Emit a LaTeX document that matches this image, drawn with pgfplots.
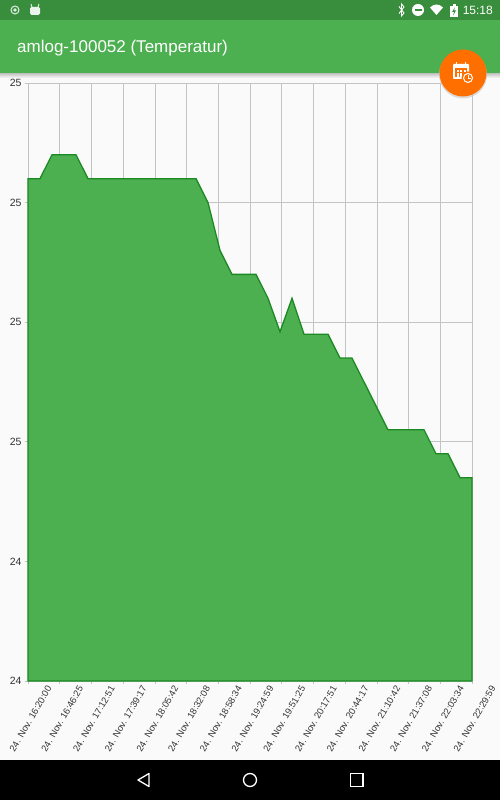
\documentclass[border=0pt]{standalone}
\usepackage{pgfplots}
\pgfplotsset{compat=1.18}
\usepackage{fontspec}
\setmainfont{Liberation Sans}
\definecolor{bg}{HTML}{FAFAFA}
\definecolor{appbar}{HTML}{4CAF50}
\definecolor{statusbar}{HTML}{388E3C}
\definecolor{fab}{HTML}{FF6F00}
\definecolor{gridc}{HTML}{C4C4C4}
\definecolor{linec}{HTML}{1B8A23}
\definecolor{labelc}{HTML}{333333}
\begin{document}
\begin{tikzpicture}[x=1pt,y=1pt]
\useasboundingbox (0,0) rectangle (500,800);
\fill[bg] (0,0) rectangle (500,800);
\begin{axis}[
  at={(28pt,119pt)}, anchor=south west,
  scale only axis, width=444pt, height=598pt,
  xmin=0, xmax=22199, ymin=24.3, ymax=24.8,
  axis x line=bottom, axis y line=left,
  axis line style={gridc,line width=0.8pt,-},
  grid=major, grid style={gridc,line width=0.6pt},
  tick style={gridc,line width=0.6pt},
  tick align=outside,
  major tick length=3pt,
  xtick={0,1585,3171,4757,6342,7928,9514,11099,12685,14271,15857,17442,19028,20614,22199},
  xticklabels={24. Nov. 16:20:00,24. Nov. 16:46:25,24. Nov. 17:12:51,24. Nov. 17:39:17,24. Nov. 18:05:42,24. Nov. 18:32:08,24. Nov. 18:58:34,24. Nov. 19:24:59,24. Nov. 19:51:25,24. Nov. 20:17:51,24. Nov. 20:44:17,24. Nov. 21:10:42,24. Nov. 21:37:08,24. Nov. 22:03:34,24. Nov. 22:29:59},
  xticklabel style={anchor=center,font=\fontsize{9.3}{11}\selectfont,text=labelc,yshift=-35pt,xshift=2.5pt,rotate=60},
  ytick={24.3,24.4,24.5,24.6,24.7,24.8},
  yticklabels={24,24,25,25,25,25},
  yticklabel style={font=\fontsize{10.5}{12}\selectfont,text=labelc},
  clip=false,
]
\addplot[draw=linec,line width=1.3pt,fill=appbar] coordinates {
(0,24.72)(600,24.72)(1200,24.74)(1800,24.74)(2400,24.74)(3000,24.72)(3600,24.72)(4200,24.72)(4800,24.72)(5400,24.72)(6000,24.72)(6600,24.72)(7200,24.72)(7800,24.72)(8400,24.72)(9000,24.70)(9600,24.66)(10200,24.64)(10800,24.64)(11400,24.64)(12000,24.62)(12600,24.592)(13200,24.62)(13800,24.59)(14400,24.59)(15000,24.59)(15600,24.57)(16200,24.57)(16800,24.55)(17400,24.53)(18000,24.51)(18600,24.51)(19200,24.51)(19800,24.51)(20400,24.49)(21000,24.49)(21600,24.47)(22199,24.47)
} \closedcycle;
\end{axis}
% window chrome: y measured downward from the top edge
\begin{scope}[yshift=800pt,y=-1pt]
\shade[top color=black!25,bottom color=bg] (0,73) rectangle (500,78);
\fill[appbar] (0,20) rectangle (500,73);
\fill[statusbar] (0,0) rectangle (500,20);
\fill[black] (0,760) rectangle (500,800);
\node[anchor=base west,text=white,inner sep=0pt,font=\fontsize{17}{19}\selectfont] at (17,52.5) {amlog-100052 (Temperatur)};
\node[anchor=base east,text=white,inner sep=0pt,font=\fontsize{12}{14}\selectfont] at (493,15) {15:18};
% status icons
\draw[white!85!statusbar,line width=1pt] (15,10) circle (4);
\fill[white!85!statusbar] (15,10) circle (1.8);
\fill[white!90!statusbar,rounded corners=1.5pt] (30,7) rectangle (40,15);
\draw[white!90!statusbar,line width=.8pt] (32,7)--(31,4) (38,7)--(39,4);
\draw[white,line width=.9pt] (399,6.5)--(404,13)--(401.5,16)--(401.5,4)--(404,7)--(399,13.5);
\fill[white] (418,10) circle (6);
\fill[statusbar] (414.5,9) rectangle (421.5,11);
\fill[white] (430,7.5) .. controls (434,3.5) and (439,3.5) .. (443,7.5) -- (436.5,15) -- cycle;
\fill[white] (450,6) rectangle (458,17);
\fill[white] (452.5,4.5) rectangle (455.5,6);
\fill[statusbar] (454.8,7.5)--(452,12)--(454,12)--(453.2,15.5)--(456,10.5)--(454,10.5)--cycle;
% action button
\fill[black!22,opacity=.6] (463,74.5) circle (24);
\fill[fab] (463,73) circle (23.5);
\fill[white,rounded corners=.8pt] (453,64) rectangle (469,79);
\fill[fab] (455,68.5) rectangle (467,77.5);
\foreach \a in {456.5,460,463.5}{\foreach \b in {70,73,75.5}{\fill[white] (\a,\b) rectangle ++(2,1.6);}}
\draw[white,line width=1pt] (456.5,62)--(456.5,65) (465.5,62)--(465.5,65);
\fill[fab] (468,78) circle (6.5);
\draw[white,line width=1pt] (468,78) circle (4.5);
\draw[white,line width=.8pt] (468,75.5)--(468,78)--(470.5,78);
% navigation bar
\draw[white,line width=1.3pt,line join=round] (149,773.5)--(138,780)--(149,786.5)--cycle;
\draw[white,line width=1.3pt] (250,780) circle (6.5);
\draw[white,line width=1.3pt] (350.5,773.5) rectangle (363,786.5);
\end{scope}
\end{tikzpicture}
\end{document}
